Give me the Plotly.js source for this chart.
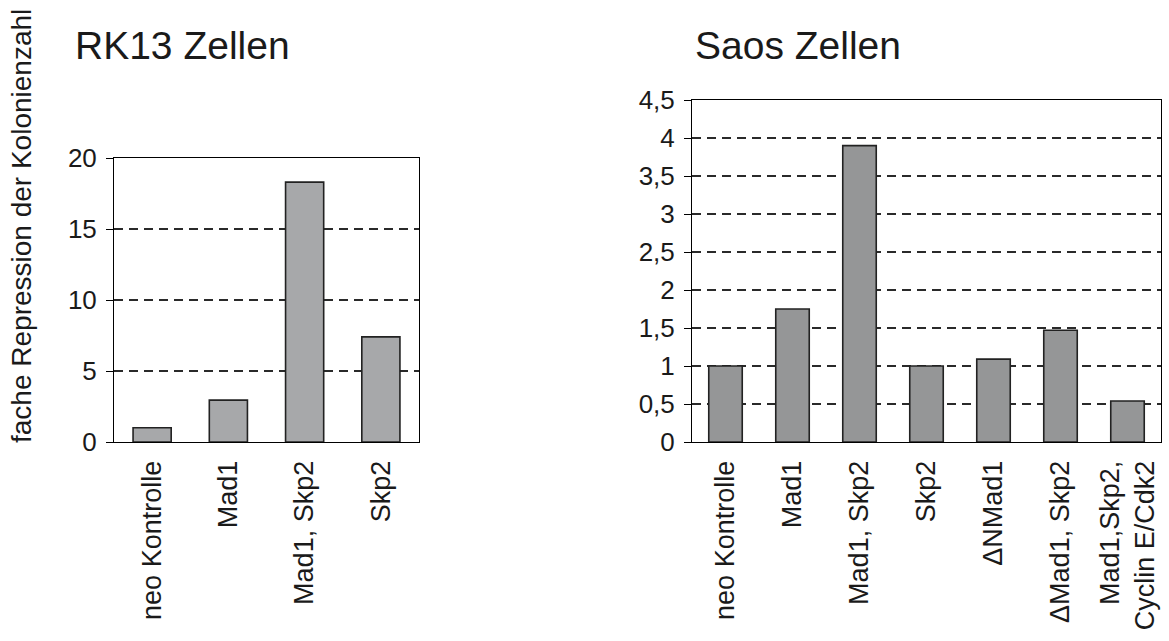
<!DOCTYPE html>
<html>
<head>
<meta charset="utf-8">
<script src="https://cdn.plot.ly/plotly-3.0.1.min.js"></script>
<style>html,body{margin:0;padding:0;background:#fff;}#chart{width:1169px;height:641px;}</style>
</head>
<body>
<div id="chart"></div>
<script>
const rkCategories = ["neo Kontrolle", "Mad1", "Mad1, Skp2", "Skp2"];
const rkValues = [1.0, 2.95, 18.3, 7.4];
const saosCategories = ["neo Kontrolle", "Mad1", "Mad1, Skp2", "Skp2", "\u0394NMad1", "\u0394Mad1, Skp2", "Mad1,Skp2,<br>Cyclin E/Cdk2"];
const saosValues = [1.0, 1.75, 3.9, 1.0, 1.09, 1.47, 0.54];
const rkTitle = "RK13 Zellen";
const saosTitle = "Saos Zellen";
const yTitle = "fache Repression der Kolonienzahl";

const W = 1169, H = 641;
const px = v => v / W;
const py = v => 1 - v / H;
const FONT = "Liberation Sans, Arial, sans-serif";

const traces = [
  {type: "bar", x: rkCategories.map((c, i) => i), y: rkValues, width: 0.5,
   marker: {color: "#a7a8aa", line: {color: "#222", width: 1.6}},
   xaxis: "x", yaxis: "y", hoverinfo: "skip"},
  {type: "bar", x: saosCategories.map((c, i) => i), y: saosValues, width: 0.5,
   marker: {color: "#959697", line: {color: "#222", width: 1.6}},
   xaxis: "x2", yaxis: "y2", hoverinfo: "skip"}
];

const xCommon = {
  type: "linear", tickmode: "array", ticks: "", showgrid: false, zeroline: false,
  showline: true, linecolor: "#000", linewidth: 1, mirror: true,
  tickangle: -90, ticklabelstandoff: 7,
  tickfont: {family: FONT, size: 27, color: "#1a1a1a"}, fixedrange: true
};
const yCommon = {
  showgrid: true, gridcolor: "#2a2a2a", gridwidth: 1.2, griddash: "9px,6px", zeroline: false,
  showline: true, linecolor: "#000", linewidth: 1, mirror: true,
  ticks: "outside", ticklen: 7, tickcolor: "#000", tickwidth: 1, ticklabelstandoff: 4,
  tickfont: {family: FONT, size: 26, color: "#1a1a1a"}, fixedrange: true
};

const layout = {
  width: W, height: H,
  margin: {l: 0, r: 0, t: 0, b: 0},
  paper_bgcolor: "#fff", plot_bgcolor: "#fff",
  showlegend: false,
  separators: ",.",
  font: {family: FONT, color: "#1a1a1a"},
  xaxis: Object.assign({}, xCommon, {domain: [px(114), px(419)], range: [-0.5, 3.5],
    tickvals: rkCategories.map((c, i) => i), ticktext: rkCategories, anchor: "y"}),
  yaxis: Object.assign({}, yCommon, {domain: [py(442), py(158)], range: [0, 20], dtick: 5, anchor: "x"}),
  xaxis2: Object.assign({}, xCommon, {domain: [px(692), px(1161)], range: [-0.5, 6.5],
    tickvals: saosCategories.map((c, i) => i), ticktext: saosCategories, anchor: "y2"}),
  yaxis2: Object.assign({}, yCommon, {domain: [py(442), py(100)], range: [0, 4.5], dtick: 0.5, anchor: "x2"}),
  annotations: [
    {text: rkTitle, xref: "paper", yref: "paper", x: px(73), y: py(45), xanchor: "left", yanchor: "middle",
     showarrow: false, font: {family: FONT, size: 39, color: "#1a1a1a"}},
    {text: saosTitle, xref: "paper", yref: "paper", x: px(693), y: py(45), xanchor: "left", yanchor: "middle",
     showarrow: false, font: {family: FONT, size: 39, color: "#1a1a1a"}},
    {text: yTitle, xref: "paper", yref: "paper", x: px(22), y: py(226), xanchor: "center", yanchor: "middle",
     textangle: -90, showarrow: false, font: {family: FONT, size: 28, color: "#1a1a1a"}}
  ]
};

Plotly.newPlot("chart", traces, layout, {displayModeBar: false, staticPlot: true});
</script>
</body>
</html>
